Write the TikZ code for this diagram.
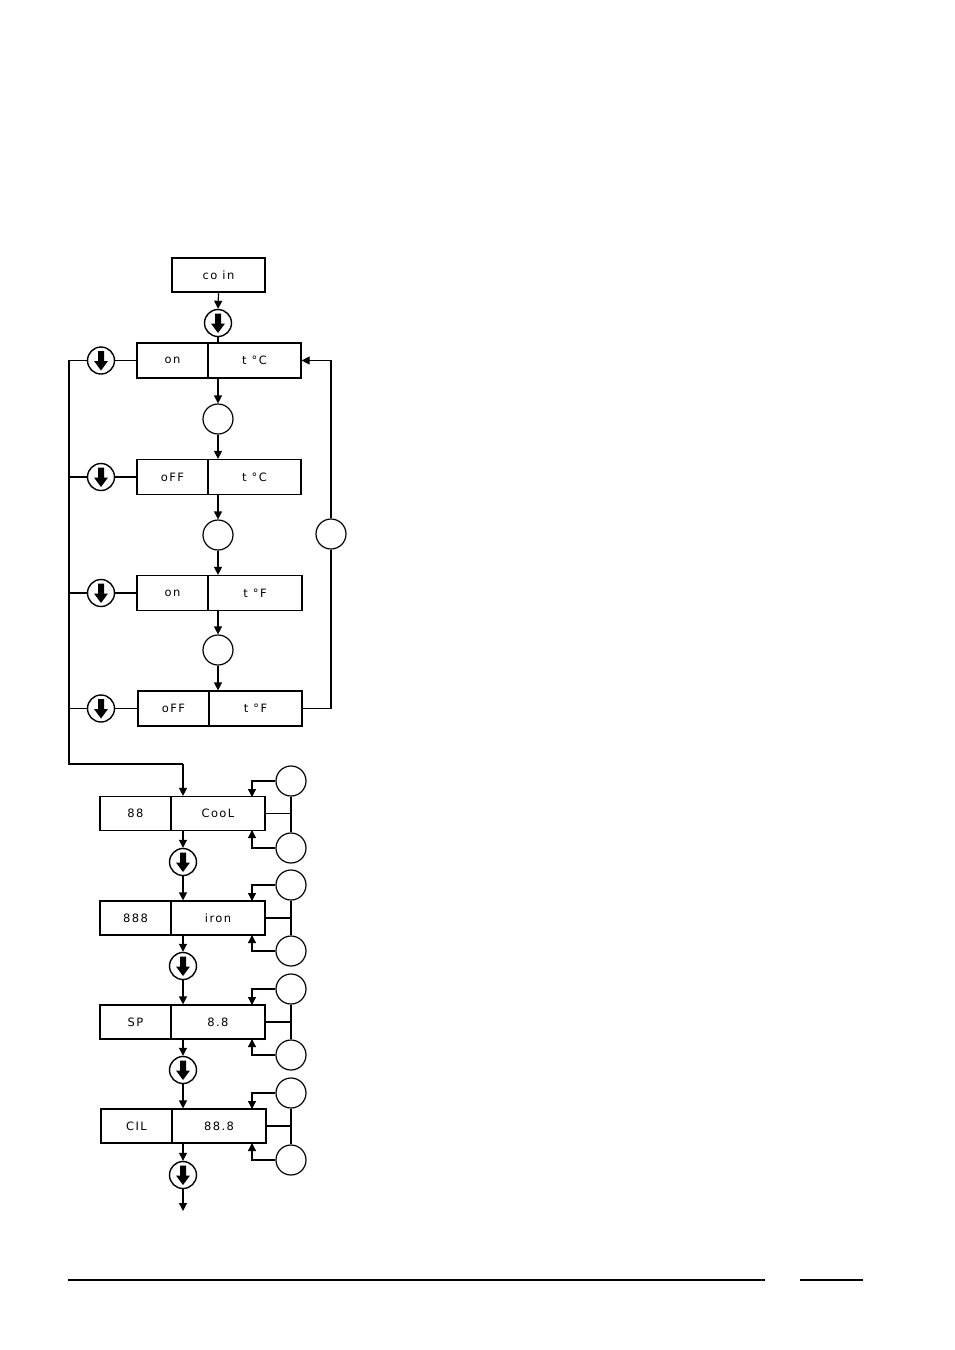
\documentclass[tikz,border=0pt]{standalone}
\usepackage{fontspec}
\setmainfont{DejaVu Sans}
\newfontfamily\segfont[LetterSpace=12]{DejaVu Sans}
\usetikzlibrary{arrows.meta,calc}
\begin{document}
\begin{tikzpicture}[x=1pt,y=-1pt,
  ln/.style={line width=1.2pt},
  arr/.style={ln,-{Triangle[length=8pt,width=8pt]}},
  cellL/.style={draw,line width=1.2pt,minimum width=71pt,minimum height=35pt,inner sep=0pt,font=\segfont\fontsize{11.5}{13}\selectfont},
  cellR/.style={draw,line width=1.2pt,minimum width=93pt,minimum height=35pt,inner sep=0pt,font=\segfont\fontsize{11.5}{13}\selectfont},
  cellLs/.style={cellL,minimum height=34pt},
  cellRs/.style={cellR,minimum width=94pt,minimum height=34pt},
  rnd/.style={circle,draw,line width=1.2pt,minimum size=30pt,inner sep=0pt},
  btn/.style={circle,draw,line width=1.4pt,minimum size=27pt,inner sep=0pt,
    path picture={\fill[shift={(path picture bounding box.center)}]
      (-3pt,9.5pt) -- (3pt,9.5pt) -- (3pt,-0.5pt) -- (7pt,-0.5pt) -- (0pt,-10pt) -- (-7pt,-0.5pt) -- (-3pt,-0.5pt) -- cycle;}}
]
\useasboundingbox (0,0) rectangle (954,1350);

% top box
\node[draw,line width=1.2pt,minimum width=93pt,minimum height=34pt,inner sep=0pt,font=\segfont\fontsize{11.5}{13}\selectfont] (coin) at (218.5,275) {co in};
\node[btn] (b0) at (218,323) {};

% upper rows
\node[cellL] (r1a) at (172.5,360.5) {on};
\node[cellR] (r1b) at (254.5,360.5) {t °C};
\node[cellL] (r2a) at (172.5,477) {oFF};
\node[cellR] (r2b) at (254.5,477) {t °C};
\node[cellL] (r3a) at (172.5,593) {on};
\node[cellR,minimum width=94pt] (r3b) at (255,593) {t °F};
\node[cellL] (r4a) at (173.5,708.5) {oFF};
\node[cellR] (r4b) at (255.5,708.5) {t °F};

\node[rnd] (c1) at (218,419) {};
\node[rnd] (c2) at (218,535) {};
\node[rnd] (c3) at (218,650) {};
\node[rnd] (cR) at (331,534) {};

\node[btn] (lb1) at (101,360.5) {};
\node[btn] (lb2) at (101,477) {};
\node[btn] (lb3) at (101,593) {};
\node[btn] (lb4) at (101,708.5) {};

\draw[arr] (coin.south) -- (b0.north);
\draw[ln] (b0.south) -- (b0.south |- r1b.north);
\draw[arr] (c1 |- r1b.south) -- (c1.north);
\draw[arr] (c1.south) -- (c1 |- r2b.north);
\draw[arr] (c2 |- r2b.south) -- (c2.north);
\draw[arr] (c2.south) -- (c2 |- r3b.north);
\draw[arr] (c3 |- r3b.south) -- (c3.north);
\draw[arr] (c3.south) -- (c3 |- r4b.north);

% right loop
\draw[ln] (r4b.east) -| (cR.south);
\draw[arr] (cR.north) |- (r1b.east);

% left trunk
\coordinate (Ltop) at (69,360.5);
\coordinate (Lbot) at (69,764);
\coordinate (Lturn) at (183,764);
\draw[ln] (lb1.east) -- (lb1.east -| r1a.west);
\draw[ln] (lb2.east) -- (lb2.east -| r2a.west);
\draw[ln] (lb3.east) -- (lb3.east -| r3a.west);
\draw[ln] (lb4.east) -- (lb4.east -| r4a.west);
\draw[ln] (lb1.west) -- (Ltop) -- (Lbot) -- (Lturn);
\draw[ln] (lb2.west) -- (lb2.west -| Ltop);
\draw[ln] (lb3.west) -- (lb3.west -| Ltop);
\draw[ln] (lb4.west) -- (lb4.west -| Ltop);

% lower rows
\node[cellLs] (r5a) at (135.5,813.5) {88};
\node[cellRs] (r5b) at (218,813.5) {CooL};
\node[cellLs] (r6a) at (135.5,918) {888};
\node[cellRs] (r6b) at (218,918) {iron};
\node[cellLs] (r7a) at (135.5,1022) {SP};
\node[cellRs] (r7b) at (218,1022) {8.8};
\node[cellLs] (r8a) at (136.5,1126) {CIL};
\node[cellRs] (r8b) at (219,1126) {88.8};

\draw[arr] (Lturn) -- (Lturn |- r5b.north);

\node[btn] (bb5) at (183,862) {};
\node[btn] (bb6) at (183,966) {};
\node[btn] (bb7) at (183,1070) {};
\node[btn] (bb8) at (183,1175) {};
\coordinate (endp) at (183,1211);

\draw[arr] (bb5 |- r5b.south) -- (bb5.north);
\draw[arr] (bb5.south) -- (bb5 |- r6b.north);
\draw[arr] (bb6 |- r6b.south) -- (bb6.north);
\draw[arr] (bb6.south) -- (bb6 |- r7b.north);
\draw[arr] (bb7 |- r7b.south) -- (bb7.north);
\draw[arr] (bb7.south) -- (bb7 |- r8b.north);
\draw[arr] (bb8 |- r8b.south) -- (bb8.north);
\draw[arr] (bb8.south) -- (endp);

% side circles
\node[rnd] (u5) at (291,781) {};
\node[rnd] (d5) at (291,848) {};
\node[rnd] (u6) at (291,885) {};
\node[rnd] (d6) at (291,951) {};
\node[rnd] (u7) at (291,989) {};
\node[rnd] (d7) at (291,1055) {};
\node[rnd] (u8) at (291,1093) {};
\node[rnd] (d8) at (291,1160) {};

\coordinate (a5u) at (252,797);
\coordinate (a5d) at (252,830);
\coordinate (a6u) at (252,901);
\coordinate (a6d) at (252,935);
\coordinate (a7u) at (252,1005);
\coordinate (a7d) at (252,1039);
\coordinate (a8u) at (252,1109);
\coordinate (a8d) at (252,1143);

\foreach \k in {5,6,7,8}{
  \draw[arr] (u\k.west) -| (a\k u);
  \draw[arr] (d\k.west) -| (a\k d);
  \draw[ln] (u\k.south) -- (d\k.north);
  \draw[ln] (r\k b.east) -- (r\k b.east -| u\k);
}

% footer rules
\coordinate (f1) at (68,1280);
\coordinate (f2) at (765,1280);
\coordinate (f3) at (800,1280);
\coordinate (f4) at (863,1280);
\draw[line width=2pt] (f1) -- (f2);
\draw[line width=2pt] (f3) -- (f4);
\end{tikzpicture}
\end{document}
